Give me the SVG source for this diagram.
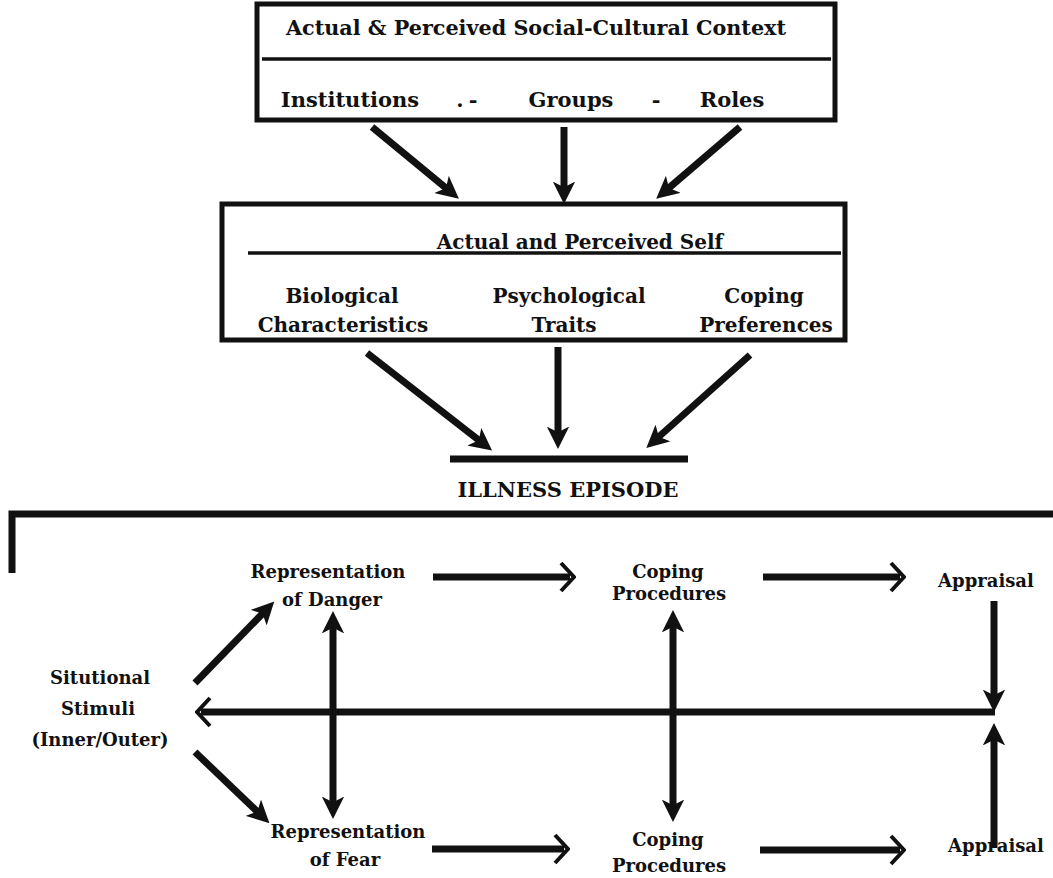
<svg xmlns="http://www.w3.org/2000/svg" width="1053" height="878" viewBox="0 0 1053 878">
<defs>
<style>
.t{font-family:"DejaVu Serif","Liberation Serif",serif;font-weight:bold;fill:#111;text-anchor:middle}
.s{font-size:21px}
.n{font-size:20px}
.m{font-size:18px}
.b{fill:none;stroke:#111;stroke-width:5}
.u{fill:none;stroke:#111;stroke-width:3.5}
.c{fill:none;stroke:#111;stroke-width:7}
</style>
<marker id="ah" viewBox="0 0 10 10" refX="6" refY="5" markerWidth="3.2" markerHeight="3.2" orient="auto-start-reverse" markerUnits="strokeWidth">
<path d="M0,0 L10,5 L0,10 L2.5,5 Z" fill="#111"/>
</marker>
<marker id="oh" viewBox="0 0 18 32" refX="12" refY="16" markerWidth="18" markerHeight="32" orient="auto" markerUnits="userSpaceOnUse">
<path d="M3,2 L16,16 L3,30" fill="none" stroke="#111" stroke-width="4"/>
</marker>
</defs>
<rect width="1053" height="878" fill="#fff"/>

<g id="context">
<rect class="b" x="257" y="4" width="578" height="116"/>
<line class="u" x1="262" y1="59" x2="831" y2="59"/>
<text class="t s" x="536" y="35" textLength="500" lengthAdjust="spacingAndGlyphs">Actual &amp; Perceived Social-Cultural Context</text>
<text class="t s" x="350" y="107">Institutions</text>
<text class="t s" x="460" y="107">.</text>
<text class="t s" x="473" y="107">-</text>
<text class="t s" x="571" y="107">Groups</text>
<text class="t s" x="656" y="107">-</text>
<text class="t s" x="732" y="107">Roles</text>
</g>

<g id="self">
<rect class="b" x="222" y="204" width="623" height="136"/>
<line class="u" x1="248" y1="253" x2="841" y2="253"/>
<text class="t n" x="580" y="249">Actual and Perceived Self</text>
<text class="t n" x="342" y="303">Biological</text>
<text class="t n" x="343" y="332">Characteristics</text>
<text class="t n" x="569" y="303">Psychological</text>
<text class="t n" x="564" y="332">Traits</text>
<text class="t n" x="764" y="303">Coping</text>
<text class="t n" x="766" y="332">Preferences</text>
</g>

<g id="illness">
<line x1="450" y1="459" x2="688" y2="459" stroke="#111" stroke-width="7"/>
<text class="t s" x="568" y="497">ILLNESS EPISODE</text>
</g>

<g id="frame">
<path d="M12,573 L12,514 L1053,514" fill="none" stroke="#111" stroke-width="7"/>
</g>

<g id="danger"><text class="t m" x="328" y="578">Representation</text><text class="t m" x="332" y="606">of  Danger</text></g>
<g id="coping1"><text class="t m" x="668" y="578">Coping</text><text class="t m" x="669" y="600">Procedures</text></g>
<g id="appraisal1"><text class="t m" x="986" y="587">Appraisal</text></g>
<g id="stimuli"><text class="t m" x="100" y="684">Situtional</text><text class="t m" x="98" y="715">Stimuli</text><text class="t m" x="100" y="746">(Inner/Outer)</text></g>
<g id="fear"><text class="t m" x="348" y="838">Representation</text><text class="t m" x="345" y="866">of Fear</text></g>
<g id="coping2"><text class="t m" x="668" y="846">Coping</text><text class="t m" x="669" y="872">Procedures</text></g>
<g id="appraisal2"><text class="t m" x="996" y="852">Appraisal</text></g>

<g id="connectors">
<line class="c" x1="372" y1="127" x2="452" y2="193" marker-end="url(#ah)"/>
<line class="c" x1="564" y1="127" x2="564" y2="195" marker-end="url(#ah)"/>
<line class="c" x1="740" y1="127" x2="663" y2="193" marker-end="url(#ah)"/>
<line class="c" x1="367" y1="353" x2="485" y2="445" marker-end="url(#ah)"/>
<line class="c" x1="558" y1="347" x2="558" y2="440" marker-end="url(#ah)"/>
<line class="c" x1="750" y1="355" x2="653" y2="442" marker-end="url(#ah)"/>
<line class="c" x1="433" y1="577" x2="570" y2="577" marker-end="url(#oh)"/>
<line class="c" x1="763" y1="577" x2="900" y2="577" marker-end="url(#oh)"/>
<line class="c" x1="432" y1="849" x2="564" y2="849" marker-end="url(#oh)"/>
<line class="c" x1="760" y1="850" x2="900" y2="850" marker-end="url(#oh)"/>
<line class="c" x1="195" y1="683" x2="268" y2="608" marker-end="url(#ah)"/>
<line class="c" x1="195" y1="752" x2="263" y2="817" marker-end="url(#ah)"/>
<line class="c" x1="333" y1="620" x2="333" y2="810" marker-start="url(#ah)" marker-end="url(#ah)"/>
<line class="c" x1="673" y1="619" x2="673" y2="813" marker-start="url(#ah)" marker-end="url(#ah)"/>
<line class="c" x1="994" y1="601" x2="994" y2="703" marker-end="url(#ah)"/>
<line class="c" x1="994" y1="848" x2="994" y2="732" marker-end="url(#ah)"/>
<line class="c" x1="995" y1="712" x2="201" y2="712" marker-end="url(#oh)"/>
</g>
</svg>
